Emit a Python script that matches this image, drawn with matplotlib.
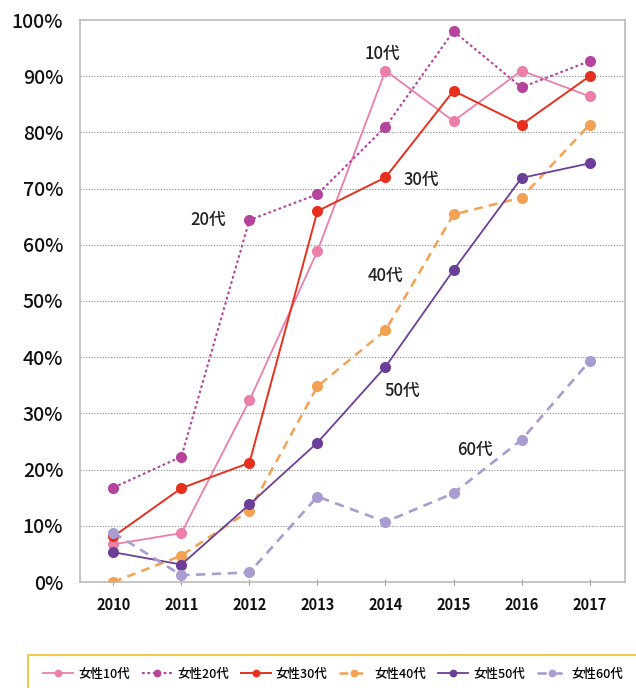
import matplotlib
matplotlib.use('Agg')
import matplotlib.pyplot as plt
from matplotlib.patches import Rectangle

plt.rcParams['font.family'] = ['Noto Sans CJK JP', 'DejaVu Sans']

# 年
years = [2010, 2011, 2012, 2013, 2014, 2015, 2016, 2017]

# 各年代の値（％）
v10 = [6.7, 8.7, 32.3, 58.9, 91.0, 82.0, 91.0, 86.4]
v20 = [16.8, 22.3, 64.4, 69.0, 81.0, 98.0, 88.0, 92.7]
v30 = [8.1, 16.7, 21.2, 66.0, 72.0, 87.4, 81.4, 90.0]
v40 = [0.0, 4.7, 12.7, 34.8, 44.8, 65.4, 68.4, 81.4]
v50 = [5.3, 3.1, 13.8, 24.8, 38.3, 55.5, 71.9, 74.5]
v60 = [8.8, 1.2, 1.7, 15.2, 10.7, 15.8, 25.3, 39.3]

legend_names = ['女性10代', '女性20代', '女性30代', '女性40代', '女性50代', '女性60代']
short_names = ['10代', '20代', '30代', '40代', '50代', '60代']

series = [v10, v20, v30, v40, v50, v60]
colors = ['#EB7FAA', '#B4449C', '#E8301F', '#F3A152', '#6B3E98', '#A99CD0']
styles = ['-', (0, (1.3, 1.3)), '-', (0, (3.5, 2.5)), '-', (0, (3.5, 2.5))]
widths = [1.3, 1.5, 1.4, 1.8, 1.3, 1.9]

fig = plt.figure(figsize=(6.36, 6.88), dpi=100)
ax = fig.add_axes([80 / 636, 1 - 582 / 688, 545 / 636, 562 / 688])

x = list(range(len(years)))
handles = []
for vals, c, ls, lw, name in zip(series, colors, styles, widths, legend_names):
    h, = ax.plot(x, vals, color=c, linestyle=ls, linewidth=lw,
                 marker='o', markersize=8, markeredgewidth=0, label=name)
    handles.append(h)

# 年代ラベル (x位置, y値)
label_pos = [(3.95, 94.0), (1.4, 64.5), (4.52, 71.5), (4.0, 54.5), (4.25, 34.0), (5.32, 23.5)]
for (lx, ly), txt in zip(label_pos, short_names):
    ax.text(lx, ly, txt, fontsize=12, fontweight='medium', color='#222222',
            ha='center', va='center')

ax.set_xlim(-0.49, 7.52)
ax.set_ylim(0, 100)
ax.set_xticks(x)
ax.set_xticklabels([str(y) for y in years], fontsize=10.5, fontweight='bold', color='#111111')
ax.set_yticks(range(0, 101, 10))
ax.set_yticklabels([f'{v}%' for v in range(0, 101, 10)], fontsize=14, fontweight='medium', color='#111111')
ax.tick_params(axis='y', length=0, pad=12)
ax.tick_params(axis='x', length=5, direction='inout', color='#999999', pad=8)

for y in range(10, 100, 10):
    ax.axhline(y, color='#888888', linestyle=(0, (1, 1.5)), linewidth=0.8, zorder=0)

for s in ax.spines.values():
    s.set_color('#BBBBBB')
    s.set_linewidth(1.2)

# 凡例
fig.patches.append(Rectangle((28 / 636, -0.05), 0.99, (688 - 655) / 688 + 0.05,
                             transform=fig.transFigure, facecolor='white',
                             edgecolor='#F2C94C', linewidth=1.5))
fig.legend(handles=handles, loc='center left', bbox_to_anchor=(32 / 636, 1 - 674 / 688),
           ncol=6, frameon=False, handlelength=2.4, handletextpad=0.4,
           columnspacing=0.95, markerscale=0.7,
           prop={'size': 9, 'weight': 'medium'})

fig.savefig('out.png', dpi=100)
